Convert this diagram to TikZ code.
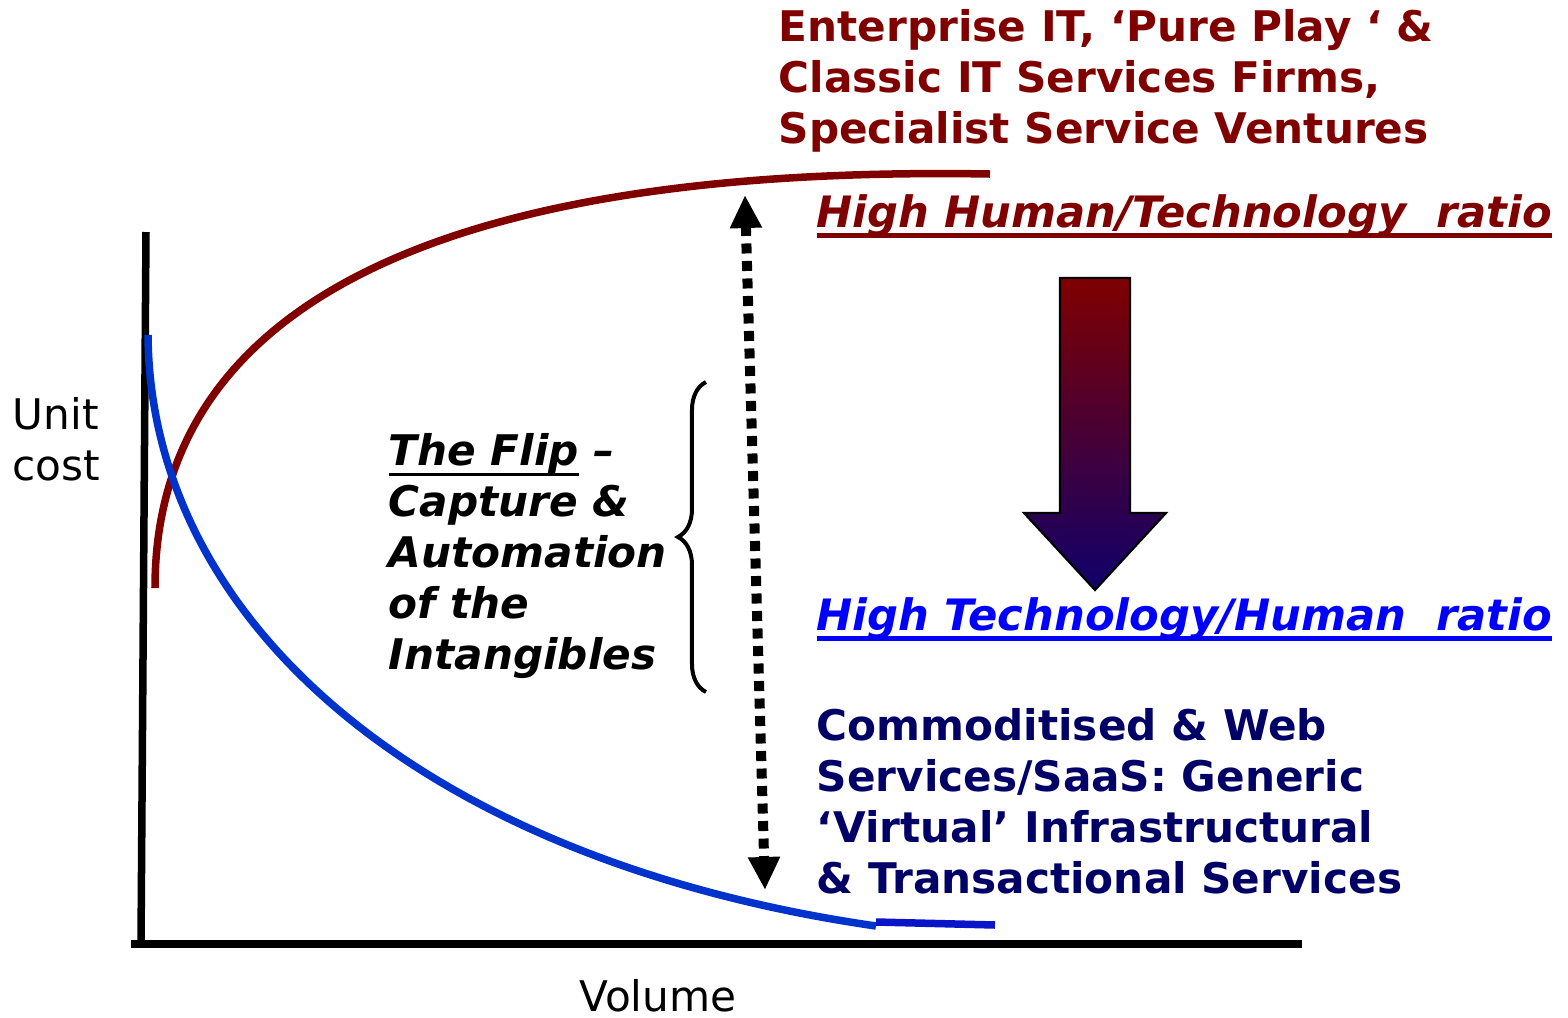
\documentclass[tikz,border=0pt]{standalone}
\usepackage{fontspec}
\setmainfont{DejaVu Sans}
\usetikzlibrary{arrows.meta,decorations.pathreplacing}
\colorlet{curveHuman}{red!50!black}
\definecolor{curveTech}{HTML}{0033CC}
\definecolor{curveTail}{HTML}{0A14C8}
\definecolor{textNavy}{HTML}{000066}
\definecolor{textBlue}{HTML}{0000FF}
\definecolor{arrowNavy}{HTML}{10006A}
\newsavebox\ulBox
\NewDocumentCommand\ThickUnder{O{1.5pt}m}%
{%
\sbox\ulBox{#2}\rlap{\raisebox{-3pt}{\rule{\wd\ulBox}{#1}}}\usebox\ulBox%
}
\tikzset{
  plain text/.style={inner sep=0pt,anchor=north west,align=left,font=\fontsize{12}{14.5}\selectfont},
  bold text/.style={plain text,font=\fontsize{12}{14.5}\selectfont\bfseries},
  slant text/.style={plain text,font=\fontsize{12}{14.5}\selectfont\bfseries\itshape},
  ratio text/.style={plain text,font=\fontsize{12.3}{14.5}\selectfont\bfseries\itshape},
  axis line/.style={black,line width=0.075cm},
  cost curve/.style={line width=0.075cm},
}

\begin{document}
\begin{tikzpicture}[x=0.01cm,y=-0.01cm]
\useasboundingbox (0,0) rectangle (1568,1017);
% axes
\coordinate (yTop) at (146,232);
\coordinate (origin) at (141,944);
\coordinate (xLeft) at (131,944);
\coordinate (xEnd) at (1302,944);
\draw[axis line] (yTop) -- (origin);
\draw[axis line] (xLeft) -- (xEnd);
\node[plain text] (unitCost) at (12,397) {Unit\\cost};
\node[plain text,anchor=north] (volume) at (658,979) {Volume};
% the two curves
\draw[cost curve,curveHuman] (155,588) .. controls (155,300) and (450,165) .. (990,174);
\draw[cost curve,curveTech] (148,335) .. controls (150,620) and (420,860) .. (876,926);
\draw[cost curve,curveTail] (876,922) -- (995,925);
% texts on the right
\node[bold text,curveHuman] (enterprise) at (778,9)
  {Enterprise IT, `Pure Play ` \&\\Classic IT Services Firms,\\Specialist Service Ventures};
\node[ratio text,curveHuman] (humanRatio) at (816,194)
  {\ThickUnder{High Human/Technology\ \ ratio}};
\node[ratio text,textBlue] (techRatio) at (816,597)
  {\ThickUnder{High Technology/Human\ \ ratio}};
\node[bold text,textNavy] (commodity) at (816,708)
  {Commoditised \& Web\\Services/SaaS: Generic\\‘Virtual’ Infrastructural\\\& Transactional Services};
% the flip
\node[slant text] (flip) at (388,433)
  {\ThickUnder[1pt]{The Flip} --\\Capture \&\\Automation\\of the\\Intangibles};
\coordinate (braceTop) at (706,382);
\coordinate (braceBot) at (706,692);
\draw[line width=0.04cm,decorate,decoration={brace,amplitude=0.28cm}] (braceBot) -- (braceTop);
\coordinate (flipTop) at (745,195);
\coordinate (flipBot) at (765,890);
\draw[line width=0.1cm,dash pattern=on 0.1cm off 0.075cm,
  {Triangle[width=0.3cm,length=0.33cm]}-{Triangle[width=0.3cm,length=0.33cm]}] (flipTop) -- (flipBot);
% big arrow
\shade[top color=curveHuman,bottom color=arrowNavy,draw=black,line width=0.6pt]
  (1060,278) -- (1130,278) -- (1130,513) -- (1166,513) -- (1095,590) -- (1024,513) -- (1060,513) -- cycle;
\end{tikzpicture}
\end{document}
